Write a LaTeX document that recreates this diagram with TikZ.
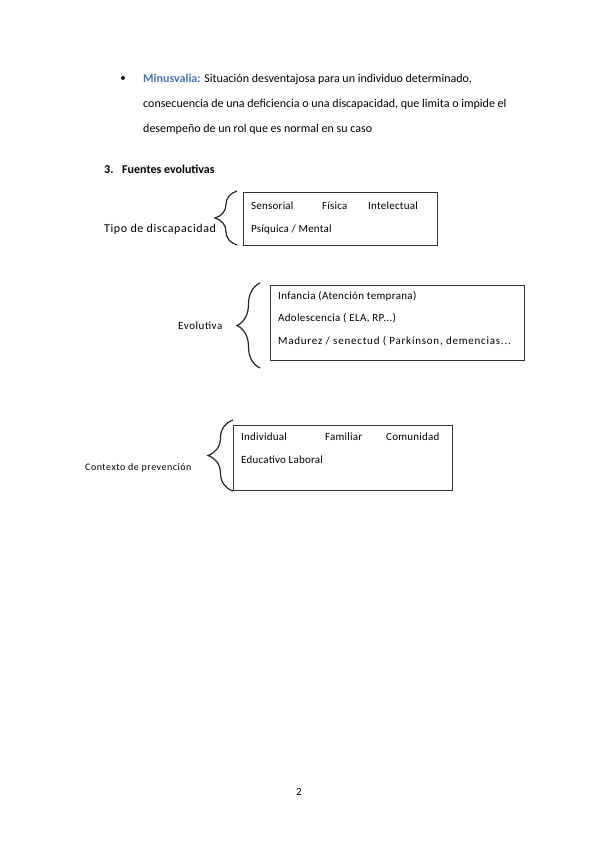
\documentclass[tikz,border=0pt]{standalone}
\usepackage{fontspec}
\setmainfont{Carlito}
\usetikzlibrary{decorations.pathreplacing}
\definecolor{accblue}{HTML}{4472C4}
\newcommand\myfs[2]{\fontsize{#1}{#1}\selectfont\addfontfeatures{LetterSpace=#2}}
\tikzset{
  txt/.style={anchor=base west, inner sep=0pt, font=\myfs{12}{0}},
  small/.style={anchor=base west, inner sep=0pt, font=\myfs{11}{#1}},
  small/.default=3,
  boxed/.style={draw=black!80, line width=0.8pt},
  curly/.style={decorate, decoration={brace, amplitude=#1}, line width=1.2pt, black!85}
}
\begin{document}
\begin{tikzpicture}[x=1pt, y=-1pt]
\useasboundingbox (0,0) rectangle (599,848);
% bullet paragraph
\node[anchor=center, inner sep=0pt] (bul) at (123,79) {\fontsize{11}{13}\selectfont\textbullet};
\node[txt] (l1) at (143,83) {\textcolor{accblue}{\textbf{Minusvalia:}} Situación desventajosa para un individuo determinado,};
\node[txt] (l2) at (143,108) {consecuencia de una deficiencia o una discapacidad, que limita o impide el};
\node[txt] (l3) at (143,132) {desempeño de un rol que es normal en su caso};
% heading
\node[txt] (h3n) at (104,173) {\textbf{3.}};
\node[txt] (h3) at (122,173) {\textbf{Fuentes evolutivas}};
% group 1
\node[txt, font=\myfs{12}{5}] (lab1) at (104,232) {Tipo de discapacidad};
\draw[curly=22] (237,245) -- (237,191);
\draw[boxed] (243,192) rectangle (437,245);
\node[small=2] (a1) at (251,209) {Sensorial};
\node[small=2] (a2) at (322,209) {Física};
\node[small=2] (a3) at (368,209) {Intelectual};
\node[small=2] (a4) at (251,232) {Psíquica / Mental};
% group 2
\node[small=5] (lab2) at (178,329) {Evolutiva};
\draw[curly=23] (260,368) -- (260,283);
\draw[boxed] (270,285) rectangle (524,360);
\node[small=3] (b1) at (278,299) {Infancia (Atención temprana)};
\node[small=3] (b2) at (278,321) {Adolescencia ( ELA, RP...)};
\node[small=7] (b3) at (278,344) {Madurez / senectud ( Parkinson, demencias...};
% group 3
\node[small=5, font=\myfs{10}{5}] (lab3) at (85,470) {Contexto de prevención};
\draw[curly=25] (233,491) -- (233,420);
\draw[boxed] (233,425) rectangle (452,490);
\node[small=2] (c1) at (241,440) {Individual};
\node[small=2] (c2) at (325,440) {Familiar};
\node[small=2] (c3) at (386,440) {Comunidad};
\node[small=2] (c4) at (241,463) {Educativo Laboral};
% page number
\node[small=0, anchor=center] (pg) at (299,792) {2};
\end{tikzpicture}
\end{document}
